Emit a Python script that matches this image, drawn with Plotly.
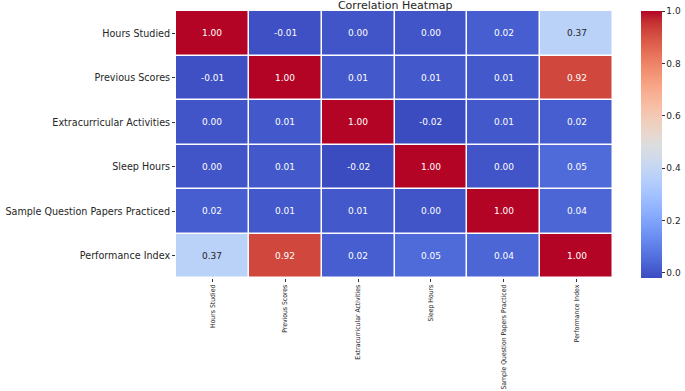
import plotly.graph_objects as go

labels = ["Hours Studied", "Previous Scores", "Extracurricular Activities",
          "Sleep Hours", "Sample Question Papers Practiced", "Performance Index"]

corr = [
    [1.00, -0.01, 0.00, 0.00, 0.02, 0.37],
    [-0.01, 1.00, 0.01, 0.01, 0.01, 0.92],
    [0.00, 0.01, 1.00, -0.02, 0.01, 0.02],
    [0.00, 0.01, -0.02, 1.00, 0.00, 0.05],
    [0.02, 0.01, 0.01, 0.00, 1.00, 0.04],
    [0.37, 0.92, 0.02, 0.05, 0.04, 1.00],
]

cbar_ticks = [0.0, 0.2, 0.4, 0.6, 0.8, 1.0]

coolwarm = [
    (59, 76, 192), (68, 90, 204), (77, 104, 215), (87, 117, 225), (98, 130, 234),
    (108, 142, 241), (119, 154, 247), (130, 165, 251), (141, 176, 254), (152, 185, 255),
    (163, 194, 255), (174, 201, 253), (184, 208, 249), (194, 213, 244), (204, 217, 238),
    (213, 219, 230), (221, 221, 221), (229, 216, 209), (236, 211, 197), (241, 204, 185),
    (245, 196, 173), (247, 187, 160), (247, 177, 148), (247, 166, 135), (244, 154, 123),
    (241, 141, 111), (236, 127, 99), (229, 112, 88), (222, 96, 77), (213, 80, 66),
    (203, 62, 56), (192, 40, 47), (180, 4, 38),
]
n = len(coolwarm) - 1
colorscale = [[i / n, "rgb(%d,%d,%d)" % c] for i, c in enumerate(coolwarm)]

zmin = min(min(r) for r in corr)
zmax = max(max(r) for r in corr)

fig = go.Figure(go.Heatmap(
    z=corr, x=labels, y=labels,
    colorscale=colorscale, zmin=zmin, zmax=zmax,
    xgap=1.5, ygap=1.5,
    hoverongaps=False,
    colorbar=dict(
        thickness=21, len=1.0, lenmode="fraction", y=0.5, yanchor="middle",
        x=1.064, xanchor="left", xpad=0, ypad=0,
        outlinewidth=0, tickvals=cbar_ticks, ticktext=["%.1f" % t for t in cbar_ticks],
        ticks="outside", ticklen=3, tickcolor="#333",
        tickfont=dict(family="DejaVu Sans", size=9, color="#262626"),
    ),
))

annotations = []
for i, row in enumerate(corr):
    for j, v in enumerate(row):
        norm = (v - zmin) / (zmax - zmin)
        color = "#262626" if 0.3 < norm < 0.7 else "white"
        annotations.append(dict(
            x=labels[j], y=labels[i], text="%.2f" % v, showarrow=False,
            font=dict(family="DejaVu Sans", size=9, color=color),
        ))

fig.update_layout(
    width=685, height=391,
    margin=dict(l=176, r=72, t=11, b=113, autoexpand=False),
    paper_bgcolor="white", plot_bgcolor="white",
    title=dict(text="Correlation Heatmap", x=0.577, xanchor="center",
               y=0.986, yanchor="middle", pad=dict(t=0, b=0),
               font=dict(family="DejaVu Sans", size=11, color="#262626")),
    annotations=annotations,
    xaxis=dict(tickangle=-90, ticks="outside", ticklen=3, tickcolor="#333",
               showgrid=False, zeroline=False, showline=False, automargin=False,
               tickfont=dict(family="Liberation Sans Narrow, DejaVu Sans Condensed", size=6.8, color="#262626")),
    yaxis=dict(autorange="reversed", ticks="outside", ticklen=3, tickcolor="#333",
               showgrid=False, zeroline=False, showline=False, automargin=False,
               tickfont=dict(family="DejaVu Sans", size=9.6, color="#262626")),
)

fig.write_html("out.html", config={"displayModeBar": False},
               post_script="document.body.style.margin='0';document.body.style.overflow='hidden';")
